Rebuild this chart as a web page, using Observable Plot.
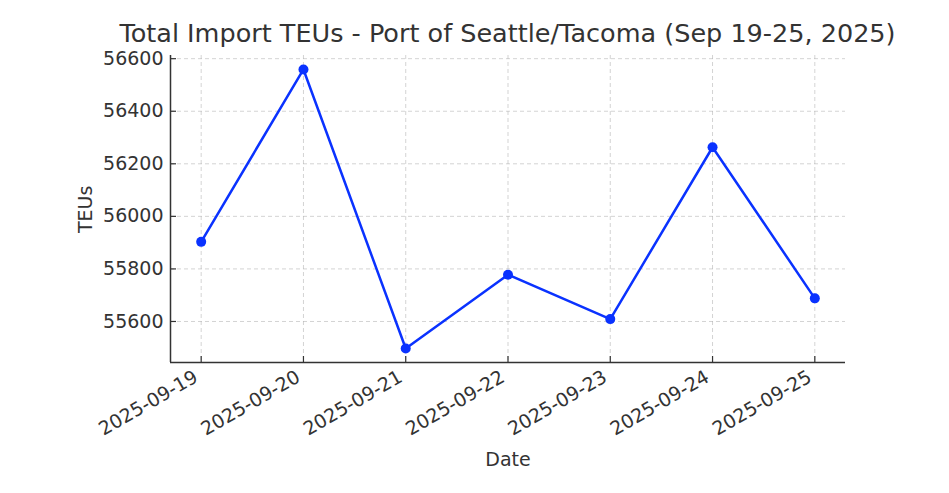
<!DOCTYPE html>
<html>
<head>
<meta charset="utf-8">
<script src="https://cdn.jsdelivr.net/npm/d3@7"></script>
<script src="https://cdn.jsdelivr.net/npm/@observablehq/plot@0.6"></script>
<style>
  body { margin: 0; background: #fff; }
  #title { width: 949px; height: 50px; box-sizing: border-box; padding-left: 66px; text-align: center;
           font-family: "DejaVu Sans", sans-serif; font-size: 25.5px; color: #333; line-height: 26px; padding-top: 20px; }
  #chart svg { display: block; overflow: visible; }
</style>
</head>
<body>
<div id="title">Total Import TEUs - Port of Seattle/Tacoma (Sep 19-25, 2025)</div>
<div id="chart"></div>
<script>
const dates = ["2025-09-19", "2025-09-20", "2025-09-21", "2025-09-22", "2025-09-23", "2025-09-24", "2025-09-25"];
const teus = [55903, 56559, 55497, 55778, 55609, 56263, 55688];
const yTicks = [55600, 55800, 56000, 56200, 56400, 56600];

const data = dates.map((d, i) => ({date: new Date(d + "T00:00:00Z"), teu: teus[i]}));
const day = 86400000;
const xDomain = [new Date(data[0].date - 0.3 * day), new Date(+data[data.length - 1].date + 0.3 * day)];
const yMin = d3.min(teus), yMax = d3.max(teus), pad = (yMax - yMin) * 0.05;
const yDomain = [yMin - pad, yMax + pad];
const xTicks = data.map(d => d.date);
const fmt = d3.utcFormat("%Y-%m-%d");
const blue = "#0a32ff";
const ink = "#333";

const chart = Plot.plot({
  width: 949,
  height: 443,
  marginLeft: 170,
  marginRight: 104,
  marginTop: 5,
  marginBottom: 131,
  style: {fontFamily: "DejaVu Sans, sans-serif", fontSize: "19px", color: ink, background: "#fff"},
  x: {type: "utc", domain: xDomain},
  y: {domain: yDomain},
  marks: [
    Plot.gridX(xTicks, {stroke: "#b0b0b0", strokeOpacity: 0.7, strokeDasharray: "4,3", strokeWidth: 0.8}),
    Plot.gridY(yTicks, {stroke: "#b0b0b0", strokeOpacity: 0.7, strokeDasharray: "4,3", strokeWidth: 0.8}),
    Plot.axisY({ticks: yTicks, tickSize: -6, tickPadding: 13, stroke: ink, strokeWidth: 1.2, label: null, tickFormat: d => String(d)}),
    Plot.axisX({ticks: xTicks, tickSize: -6, stroke: ink, strokeWidth: 1.2, label: null, tickFormat: () => ""}),
    Plot.axisX({ticks: xTicks, tickSize: 0, tickPadding: 13, dx: -5, tickRotate: -30, label: null, tickFormat: fmt}),
    Plot.ruleY([yDomain[0]], {stroke: ink, strokeWidth: 1.5}),
    Plot.ruleX([xDomain[0]], {stroke: ink, strokeWidth: 1.5}),
    Plot.line(data, {x: "date", y: "teu", stroke: blue, strokeWidth: 2.5}),
    Plot.dot(data, {x: "date", y: "teu", r: 5, fill: blue, stroke: "none"}),
    Plot.text(["TEUs"], {frameAnchor: "left", dx: -85, dy: 24, rotate: -90, fontSize: 19, fill: ink}),
    Plot.text(["Date"], {frameAnchor: "bottom", dy: 103, fontSize: 19, fill: ink})
  ]
});
document.getElementById("chart").appendChild(chart);
</script>
</body>
</html>
